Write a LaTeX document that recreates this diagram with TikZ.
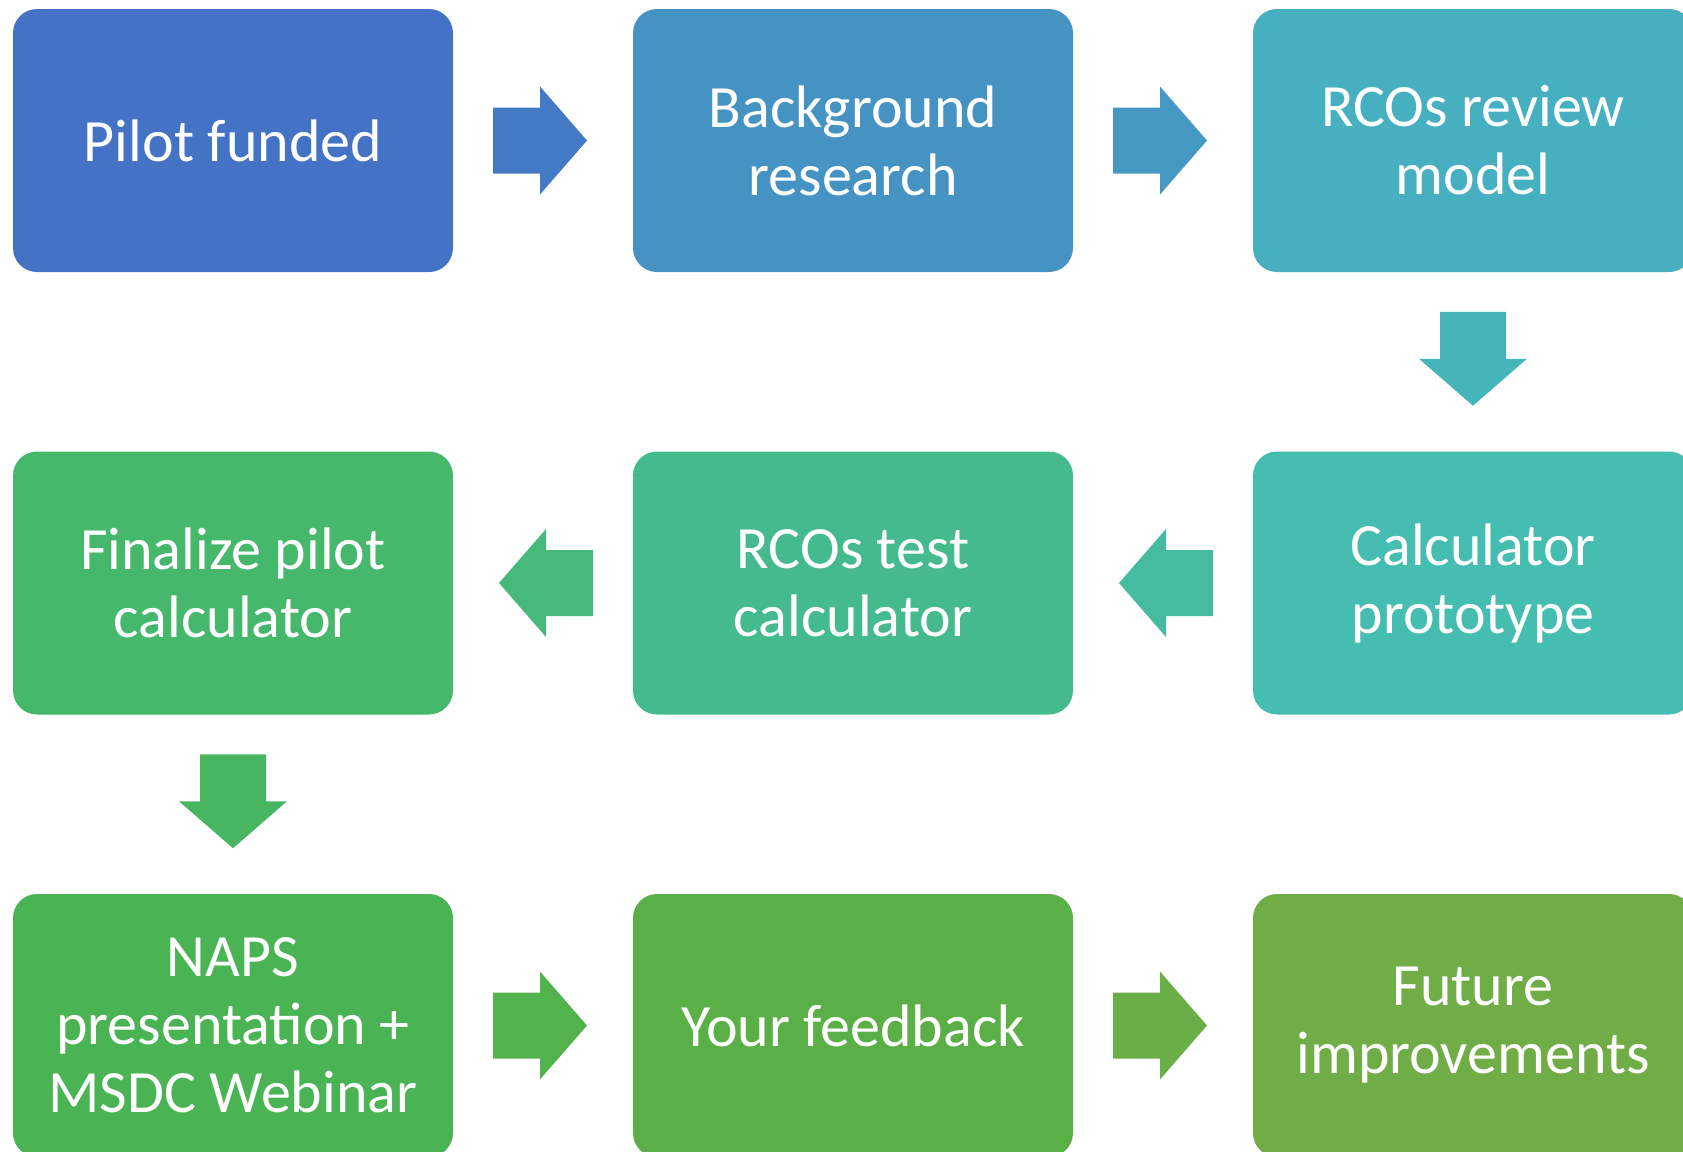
\documentclass[tikz,border=0pt]{standalone}
\usepackage{fontspec}
\setmainfont{Carlito}
\usetikzlibrary{calc}
\definecolor{cA}{HTML}{4472C4}
\definecolor{cB}{HTML}{4593C2}
\definecolor{cC}{HTML}{46AFC0}
\definecolor{cD}{HTML}{45BDB0}
\definecolor{cE}{HTML}{45BB8D}
\definecolor{cF}{HTML}{46B86C}
\definecolor{cG}{HTML}{4AB454}
\definecolor{cH}{HTML}{5AB046}
\definecolor{cI}{HTML}{70AD47}
% block arrow: colour, centre, direction
\newcommand\blockarrow[3]{\fill[#1,shift={#2},rotate=#3] (-47,-33) -- (0,-33) -- (0,-54) -- (47,0) -- (0,54) -- (0,33) -- (-47,33) -- cycle;}

\begin{document}
\begin{tikzpicture}[x=0.5pt,y=-0.5pt,
	stage/.style={rounded corners=12pt,minimum width=220pt,minimum height=131.5pt,inner sep=0pt,
		text=white,align=center,font=\fontsize{30}{34}\selectfont}]
	\def\xa{233}
	\def\dx{620}
	\def\ya{140.5}
	\def\dy{442.5}
	\useasboundingbox (0,0) rectangle (1683,1152);
	
	% top row
	\node[stage,fill=cA] (pilot) at (\xa,\ya) {Pilot funded};
	\node[stage,fill=cB] (research) at (\xa+\dx,\ya) {Background\\research};
	\node[stage,fill=cC] (review) at (\xa+2*\dx,\ya) {RCOs review\\model};
	
	% middle row, right to left
	\node[stage,fill=cD] (proto) at (\xa+2*\dx,\ya+\dy) {Calculator\\prototype};
	\node[stage,fill=cE] (test) at (\xa+\dx,\ya+\dy) {RCOs test\\calculator};
	\node[stage,fill=cF] (final) at (\xa,\ya+\dy) {Finalize pilot\\calculator};
	
	% bottom row
	\node[stage,fill=cG] (naps) at (\xa,\ya+2*\dy) {NAPS\\presentation +\\MSDC Webinar};
	\node[stage,fill=cH] (feedback) at (\xa+\dx,\ya+2*\dy) {Your feedback};
	\node[stage,fill=cI] (future) at (\xa+2*\dx,\ya+2*\dy) {Future\\improvements};
	
	\blockarrow{cA!80!cB}{($(pilot.east)!0.5!(research.west)+(-3,0)$)}{0}
	\blockarrow{cB!80!cC}{($(research.east)!0.5!(review.west)+(-3,0)$)}{0}
	\blockarrow{cC!60!cD}{($(review.south)!0.5!(proto.north)+(0,-3)$)}{-90}
	\blockarrow{cD!50!cE}{($(proto.west)!0.5!(test.east)+(3,0)$)}{180}
	\blockarrow{cE!50!cF}{($(test.west)!0.5!(final.east)+(3,0)$)}{180}
	\blockarrow{cF!50!cG}{($(final.south)!0.5!(naps.north)+(0,-3)$)}{-90}
	\blockarrow{cG!50!cH}{($(naps.east)!0.5!(feedback.west)+(-3,0)$)}{0}
	\blockarrow{cH!30!cI}{($(feedback.east)!0.5!(future.west)+(-3,0)$)}{0}
\end{tikzpicture}
\end{document}
